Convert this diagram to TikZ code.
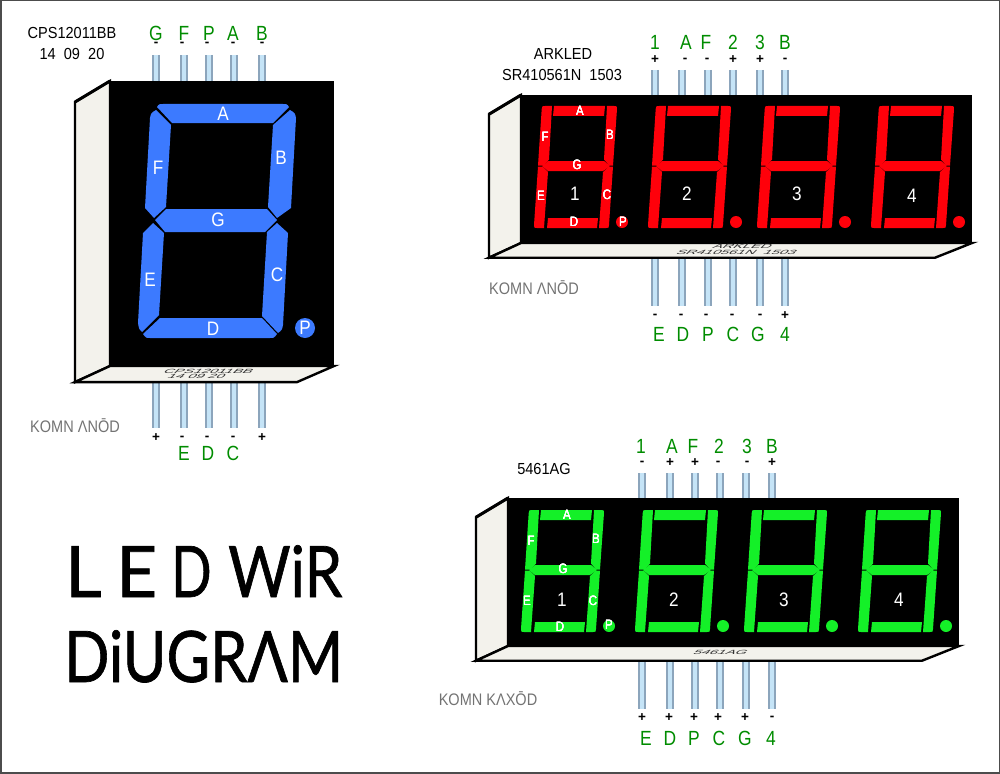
\documentclass[tikz,border=0pt]{standalone}
\usepackage{fontspec}
\setmainfont{Liberation Sans}
\newfontfamily\titlefont{Lato}[FakeBold=1.0]
\usetikzlibrary{positioning}
\definecolor{ledblue}{RGB}{60,122,255}
\definecolor{ledred}{RGB}{255,0,10}
\definecolor{ledgreen}{RGB}{20,240,40}
\definecolor{pinname}{RGB}{0,140,0}
\definecolor{pincore}{RGB}{197,228,247}
\definecolor{pinedge}{RGB}{140,165,188}
\definecolor{caseside}{RGB}{243,242,236}

% case of one display
\newcommand{\ledcase}[5]{
  \fill [black] (#1,#2) rectangle (#3,#4);
  \draw [caseline] (#1,#2) -- (#1-#5,#2+0.6*#5) -- (#1-#5,#4+0.46*#5) -- (#1,#4) -- cycle;
  \draw [caseline] (#1-#5,#4+0.46*#5) -- (#3-37,#4+0.46*#5) -- (#3,#4) -- (#1,#4) -- cycle;
  \draw [black, line width=3pt] (#1,#2) -- (#1-#5,#2+0.6*#5);
}

% seven segments of one digit, offset from the first digit of the red display
\newcommand{\sevenseg}[3]{
  \begin{scope}[shift={(#2,#3)}]
    \fill [#1] (554,106) -- (605,106) -- (604,116) -- (553,116) -- cycle;
    \fill [#1] (552,106) -- (545,106) .. controls (542,106) .. (541.7,109) -- (538,165.5) -- (543,165.5) -- (549,159.5) -- cycle;
    \fill [#1] (607,106) -- (614,106) .. controls (617,106) .. (617,109) -- (613,165.5) -- (609,165.5) -- (604,159.5) -- cycle;
    \fill [#1] (548,161) -- (604,161) -- (610,166) -- (603,171) -- (548,171) -- (542,166) -- cycle;
    \fill [#1] (538,166.5) -- (542.5,166.5) -- (548,172) -- (544,228) -- (537,228) .. controls (534,228) .. (534,225) -- cycle;
    \fill [#1] (608.5,166.5) -- (613,166.5) -- (609,225) .. controls (608.8,228) .. (606,228) -- (599,228) -- (603,172) -- cycle;
    \fill [#1] (548,218) -- (598,218) -- (597,228) -- (547,228) -- cycle;
    \fill [#1] (622,222) circle (6);
  \end{scope}
}

\begin{document}
\begin{tikzpicture}[x=1pt, y=-1pt,
    caseline/.style={draw=black, fill=caseside, line width=2.4pt, line join=miter},
    pinwire/.style={draw=pinedge, line width=1.8pt, double=pincore, double distance=3.6pt},
    pinlabel/.style={text=pinname, font=\fontsize{20.5}{20.5}\selectfont, inner sep=0pt, xscale=0.85},
    pinsign/.style={font=\bfseries\fontsize{13.5}{13.5}\selectfont, inner sep=0pt},
    seglabel/.style={text=white, font=\fontsize{19.5}{19.5}\selectfont, inner sep=0pt, xscale=0.88},
    smalllabel/.style={text=white, font=\fontsize{13.5}{13.5}\selectfont, inner sep=0pt, xscale=0.85},
    modelname/.style={font=\fontsize{16}{16}\selectfont, inner sep=0pt, xscale=0.91},
    commonname/.style={text=black!55, font=\fontsize{16.7}{16.7}\selectfont, inner sep=0pt, xscale=0.87},
    printed/.style={font=\fontsize{14.5}{14.5}\selectfont, inner sep=0pt, xslant=1, yscale=0.42, text=black!80},
    titletext/.style={font=\titlefont\fontsize{71}{71}\selectfont, inner sep=0pt, anchor=base west}]
  \useasboundingbox (0,0) rectangle (1000,773);
  \draw [black!70, line width=3pt] (0,0) rectangle (1000,773);

  % blue single digit
  \foreach \px in {156,184,209,234,262} {
    \draw [pinwire] (\px,55) -- (\px,81);
    \draw [pinwire] (\px,382) -- (\px,428);
  }
  \ledcase{110}{81}{334}{366}{35}
  \fill [ledblue] (157,107) .. controls (159,104) .. (163,104) -- (283,104) .. controls (287,104) .. (289,107) -- (273,123) -- (172,123) -- cycle;
  \fill [ledblue] (156,110) -- (171,125) -- (166,207) -- (154,218) -- (145,208) -- (150,118) .. controls (151,113) .. (156,110) -- cycle;
  \fill [ledblue] (290,110) .. controls (295,113) .. (296,118) -- (291,208) -- (277,218) -- (268,207) -- (273,125) -- cycle;
  \fill [ledblue] (166,209) -- (267,209) -- (277,220) -- (265,232) -- (165,232) -- (155,220) -- cycle;
  \fill [ledblue] (153,223) -- (164,233) -- (159,315) -- (142,332) .. controls (139,329) .. (138,323) -- (143,233) -- cycle;
  \fill [ledblue] (277,223) -- (288,233) -- (283,325) .. controls (282,330) .. (278,333) -- (262,316) -- (267,232) -- cycle;
  \fill [ledblue] (160,318) -- (262,318) -- (277,334) .. controls (274,338) .. (270,338) -- (150,338) .. controls (146,338) .. (143,334) -- cycle;
  \fill [ledblue] (305,328) circle (10);
  \foreach \lx/\ly/\seg in {223/114/A, 158/168/F, 281/158/B, 218/220/G, 150/280/E, 277/275/C, 213/329/D, 305/328/P}
    \node [seglabel] (blue\seg) at (\lx,\ly) {\seg};
  \node [printed] (blueprintA) at (209,371) {CPS12011BB};
  \node [printed] (blueprintB) at (197,376) {14 09 20};

  \foreach \nx/\sx/\nm/\sg in {156/156/G/-, 184/182/F/-, 209/207/P/-, 233/233/A/-, 262/262/B/-} {
    \node [pinlabel] (bluetop\nm) at (\nx,33) {\nm};
    \node [pinsign] (bluesign\nm) at (\sx,44.5) {\sg};
  }
  \foreach \nx/\sg [count=\i] in {156/+, 182/-, 207/-, 233/-, 262/+}
    \node [pinsign] (bluelow\i) at (\nx,438) {\sg};
  \foreach \nx/\nm in {184/E, 208/D, 233/C}
    \node [pinlabel] (bluebot\nm) at (\nx,453) {\nm};
  \node [modelname] (bluemodel) at (72,33) {CPS12011BB};
  \node [modelname] (bluedate) at (72,54) {14\ \ 09\ \ 20};
  \node [commonname] (bluecommon) at (75,426) {KOMN ΛNŌD};

  % red four digits
  \foreach \px in {655,682,708,733,760,785} {
    \draw [pinwire] (\px,70) -- (\px,95);
    \draw [pinwire] (\px,258) -- (\px,306);
  }
  \ledcase{521}{95}{972}{243}{32}
  \foreach \ox in {0,114,223,337}
    \sevenseg{ledred}{\ox}{0}
  \foreach \lx/\ly/\seg in {580/111/A, 545/137/F, 610/135/B, 577/165/G, 541/196/E, 607/195/C, 574/222/D, 623/222/P}
    \node [smalllabel] (red\seg) at (\lx,\ly) {\seg};
  \foreach \lx/\ly/\nm in {575/194/1, 687/194/2, 797/194/3, 912/196/4}
    \node [seglabel] (rednum\nm) at (\lx,\ly) {\nm};
  \node [printed] (redprintA) at (743,246) {ARKLED};
  \node [printed] (redprintB) at (737,252) {SR410561N\ \ 1503};

  \foreach \nx/\sx/\nm/\sg in {655/655/1/+, 686/685/A/-, 706/707/F/-, 733/733/2/+, 760/760/3/+, 785/785/B/-} {
    \node [pinlabel] (redtop\nm) at (\nx,42) {\nm};
    \node [pinsign] (redsign\nm) at (\sx,60) {\sg};
  }
  \foreach \nx/\sx/\nm/\sg in {659/655/E/-, 683/681/D/-, 708/706/P/-, 733/732/C/-, 758/760/G/-, 785/785/4/+} {
    \node [pinlabel] (redbot\nm) at (\nx,334) {\nm};
    \node [pinsign] (redlow\nm) at (\sx,316) {\sg};
  }
  \node [modelname] (redmaker) at (563,54) {ARKLED};
  \node [modelname] (redmodel) at (562,75) {SR410561N\ \ 1503};
  \node [commonname] (redcommon) at (534,288) {KOMN ΛNŌD};

  % green four digits
  \foreach \px in {642,670,695,720,746,772} {
    \draw [pinwire] (\px,473) -- (\px,498);
    \draw [pinwire] (\px,661) -- (\px,709);
  }
  \ledcase{508}{498}{959}{646}{32}
  \foreach \ox in {0,114,223,337}
    \sevenseg{ledgreen}{\ox-13}{404}
  \foreach \lx/\ly/\seg in {567/515/A, 531/541/F, 596/539/B, 563/569/G, 527/601/E, 593/601/C, 560/627/D, 609/625/P}
    \node [smalllabel] (green\seg) at (\lx,\ly) {\seg};
  \foreach \lx/\ly/\nm in {562/600/1, 674/600/2, 784/600/3, 899/600/4}
    \node [seglabel] (greennum\nm) at (\lx,\ly) {\nm};
  \node [printed] (greenprint) at (721,652) {5461AG};

  \foreach \nx/\sx/\nm/\sg in {641/642/1/-, 672/670/A/+, 693/695/F/+, 719/718/2/-, 747/747/3/-, 772/772/B/+} {
    \node [pinlabel] (greentop\nm) at (\nx,446) {\nm};
    \node [pinsign] (greensign\nm) at (\sx,463) {\sg};
  }
  \foreach \nx/\sx/\nm/\sg in {646/642/E/+, 670/669/D/+, 694/694/P/+, 719/718/C/+, 745/745/G/+, 771/772/4/-} {
    \node [pinlabel] (greenbot\nm) at (\nx,738) {\nm};
    \node [pinsign] (greenlow\nm) at (\sx,718) {\sg};
  }
  \node [modelname] (greenmodel) at (544,469) {5461AG};
  \node [commonname] (greencommon) at (488,699) {KOMN KΛXŌD};

  % title
  \node [titletext] (titleL) at (65,597) {L};
  \node [titletext] (titleE) at (116,597) {E};
  \node [titletext, xscale=0.75] (titleD) at (171,597) {D};
  \node [titletext, xscale=0.85] (titleW) at (228,597) {WiR};
  \node [titletext, xscale=0.84] (titleB) at (64,682) {DiUGRΛM};
\end{tikzpicture}
\end{document}
